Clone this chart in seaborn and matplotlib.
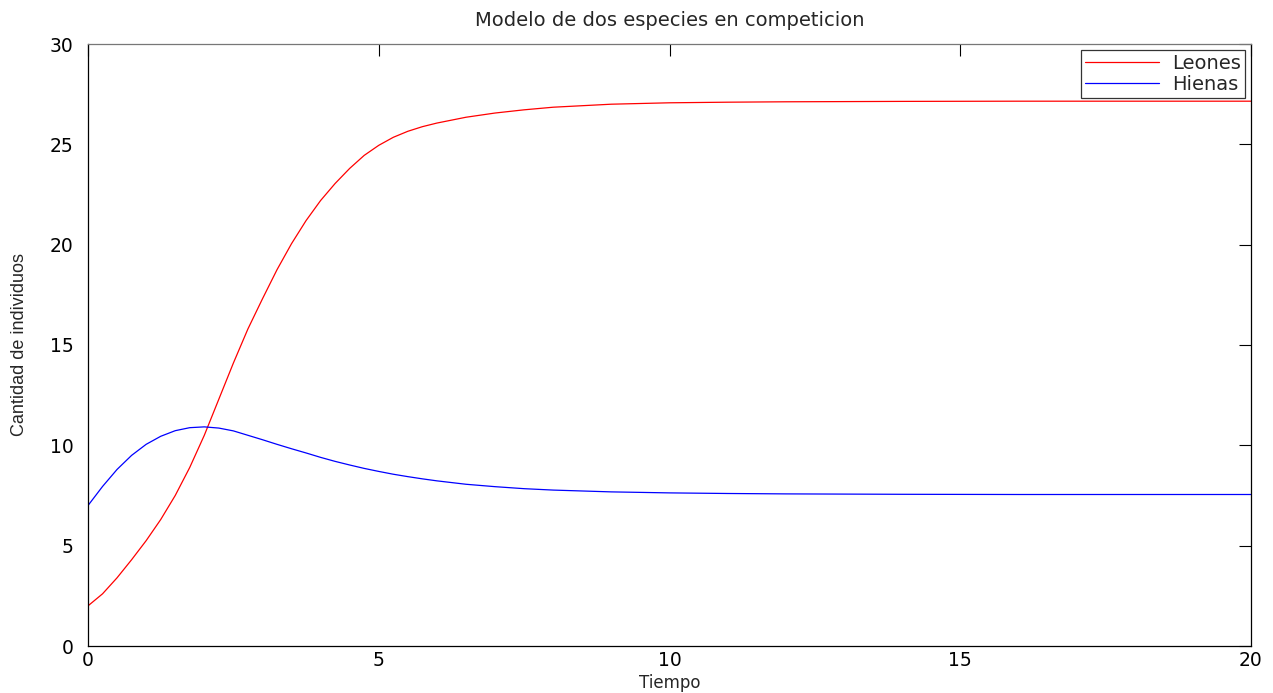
import numpy as np
import pandas as pd
import matplotlib
matplotlib.use("Agg")
import matplotlib.pyplot as plt
from matplotlib import font_manager
import seaborn as sns

tiempo = [0, 0.25, 0.5, 0.75, 1.0, 1.25, 1.5, 1.75, 2.0, 2.25, 2.5, 2.75, 3.0, 3.25, 3.5,
          3.75, 4.0, 4.25, 4.5, 4.75, 5.0, 5.25, 5.5, 5.75, 6.0, 6.5, 7.0, 7.5, 8.0, 9.0, 10,
          11, 12, 14, 16, 18, 20]
leones = [2.0, 2.6, 3.4, 4.3, 5.25, 6.3, 7.5, 8.9, 10.5, 12.3, 14.1, 15.8, 17.3, 18.75, 20.05,
          21.2, 22.2, 23.05, 23.8, 24.45, 24.95, 25.35, 25.65, 25.88, 26.06, 26.35, 26.56, 26.72,
          26.85, 27.0, 27.07, 27.1, 27.12, 27.14, 27.15, 27.15, 27.15]
hienas = [7.0, 7.95, 8.8, 9.5, 10.05, 10.45, 10.73, 10.88, 10.92, 10.86, 10.72, 10.5, 10.28, 10.05,
          9.83, 9.62, 9.4, 9.2, 9.02, 8.85, 8.7, 8.56, 8.44, 8.33, 8.23, 8.06, 7.94, 7.84, 7.77,
          7.68, 7.63, 7.6, 7.58, 7.56, 7.55, 7.55, 7.55]
series = ["Leones", "Hienas"]
colores = ["#ff0000", "#0000ff"]

df = pd.DataFrame({
    "Tiempo": tiempo * 2,
    "Cantidad": leones + hienas,
    "Especie": [series[0]] * len(tiempo) + [series[1]] * len(tiempo),
})

sns.set_style("white")
plt.rcParams["font.family"] = ["DejaVu Sans"]

fig = plt.figure(figsize=(12.73, 6.93), dpi=100)
ax = fig.add_axes([88 / 1273, 1 - 646 / 693, (1251 - 88) / 1273, (646 - 44) / 693])

sns.lineplot(data=df, x="Tiempo", y="Cantidad", hue="Especie", palette=colores,
             hue_order=series, ax=ax, linewidth=0.9, legend=True)

ax.set_xlim(0, 20)
ax.set_ylim(0, 30)
ax.set_xticks([0, 5, 10, 15, 20])
ax.set_yticks([0, 5, 10, 15, 20, 25, 30])
ax.tick_params(direction="in", length=8.5, width=0.8, top=True, right=True,
               labelsize=13.5, colors="black")
ax.tick_params(axis="y", pad=10.5)
ax.tick_params(axis="x", pad=3.5)
for side in ["left", "bottom", "right", "top"]:
    ax.spines[side].set_visible(True)
    ax.spines[side].set_color("black")
    ax.spines[side].set_linewidth(0.9)
ax.spines["top"].set_color("#777777")

ax.set_title("Modelo de dos especies en competicion", fontsize=14, pad=13)
ax.set_xlabel("Tiempo", fontsize=12)
ax.xaxis.set_label_coords(0.5, -(673.5 - 646) / 602)
ax.xaxis.label.set_va("top")

names = {f.name for f in font_manager.fontManager.ttflist}
if "Liberation Sans Narrow" in names:
    ax.set_ylabel("Cantidad de individuos", fontsize=15, family="Liberation Sans Narrow")
else:
    ax.set_ylabel("Cantidad de individuos", fontsize=13, family="Liberation Sans")
ax.yaxis.set_label_coords(-(88 - 28) / 1163, 0.5)

leg = ax.legend(loc="upper right", fontsize=14, frameon=True, fancybox=False,
                borderpad=0.2, labelspacing=0.1, handlelength=3.8, handletextpad=0.7,
                borderaxespad=0.3)
leg.get_frame().set_edgecolor("black")
leg.get_frame().set_linewidth(0.9)
for h in leg.get_lines():
    h.set_linewidth(0.9)

fig.savefig("out.png", dpi=100)
